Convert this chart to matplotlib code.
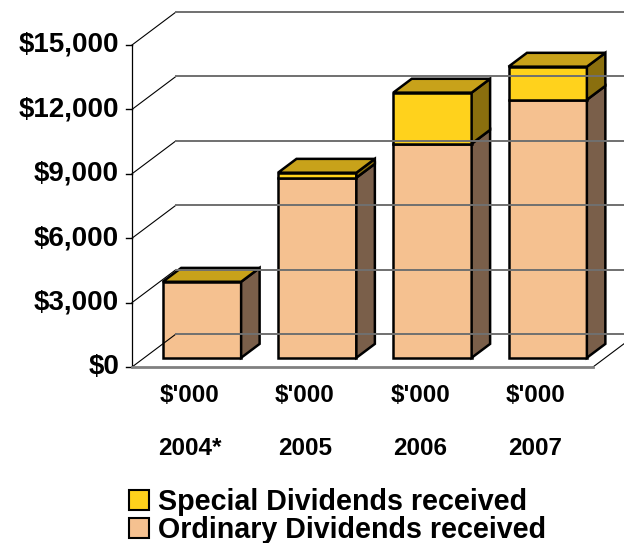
import numpy as np
import matplotlib
matplotlib.use("Agg")
import matplotlib.pyplot as plt
from matplotlib.patches import Polygon, Patch

plt.rcParams['font.family'] = ['Liberation Sans', 'DejaVu Sans']
plt.rcParams['font.weight'] = 'bold'

# data ($'000)
years = ["2004*", "2005", "2006", "2007"]
unit_labels = ["$'000", "$'000", "$'000", "$'000"]
ordinary = [3540, 8390, 9970, 12020]
special = [0, 230, 2380, 1540]
yticks = [0, 3000, 6000, 9000, 12000, 15000]
series_names = ["Special Dividends received", "Ordinary Dividends received"]

# colours
ord_front, ord_side = '#F5C190', '#7A5F4A'
sp_front, sp_side, top_col = '#FFD21C', '#8A6F0E', '#C8A21A'

W, H = 624, 543
fig = plt.figure(figsize=(W / 100, H / 100), dpi=100)
# front plane of the 3d box, in pixels
x0, x1, y0, y1 = 132, 593, 367, 45
ax = fig.add_axes([x0 / W, 1 - y0 / H, (x1 - x0) / W, (y0 - y1) / H])
ax.set_xlim(-0.5, 3.5)
ax.set_ylim(0, 15000)
ax.axis('off')

# depth of the box, expressed in data units
px_x = 4.0 / (x1 - x0)
px_y = 15000.0 / (y0 - y1)
dX, dY = 44 * px_x, 33 * px_y
fX, fY = 0.28 * dX, 0.28 * dY     # bar front
bX, bY = 0.70 * dX, 0.70 * dY     # bar back
hw = 0.34

kw = dict(clip_on=False)
# walls / gridlines
for v in yticks:
    ax.plot([-0.5, -0.5 + dX], [v, v + dY], color='black', lw=0.8, **kw)
    ax.plot([-0.5 + dX, 3.5 + dX], [v + dY, v + dY], color='#707070', lw=1.4, **kw)
    ax.plot([-0.5 - 6 * px_x, -0.5], [v, v], color='black', lw=1, **kw)
ax.plot([-0.5, -0.5], [0, 15000], color='black', lw=0.9, **kw)
ax.plot([3.5, 3.5 + dX], [0, dY], color='black', lw=0.8, **kw)
ax.plot([-0.5, 3.5], [0, 0], color='#808080', lw=2, **kw)

ec = dict(edgecolor='black', lw=1.8, joinstyle='miter', clip_on=False)


def face(pts, col):
    ax.add_patch(Polygon(pts, closed=True, facecolor=col, **ec))


for i in range(len(years)):
    l, r = i - hw, i + hw
    segs = [(0, ordinary[i], ord_front, ord_side),
            (ordinary[i], ordinary[i] + special[i], sp_front, sp_side)]
    for v0, v1, fc, sc in segs:
        if v1 <= v0:
            continue
        face([(l + fX, v0 + fY), (r + fX, v0 + fY), (r + fX, v1 + fY), (l + fX, v1 + fY)], fc)
        face([(r + fX, v0 + fY), (r + bX, v0 + bY), (r + bX, v1 + bY), (r + fX, v1 + fY)], sc)
    t = ordinary[i] + special[i]
    face([(l + fX, t + fY), (r + fX, t + fY), (r + bX, t + bY), (l + bX, t + bY)], top_col)

# tick labels
for v in yticks:
    ax.text(-0.5 - 13 * px_x, v, '${:,}'.format(v), ha='right', va='center',
            fontsize=20, fontweight='bold', clip_on=False)
for i in range(len(years)):
    ax.text(i, -28 * px_y, unit_labels[i], ha='center', va='center', fontsize=17.5,
            fontweight='bold', clip_on=False)
    ax.text(i, -81 * px_y, years[i], ha='center', va='center', fontsize=17.5,
            fontweight='bold', clip_on=False)

handles = [Patch(facecolor=sp_front, edgecolor='black', lw=1.5),
           Patch(facecolor=ord_front, edgecolor='black', lw=1.5)]
fig.legend(handles, series_names, loc='lower left', bbox_to_anchor=(118 / W, -12 / H),
           frameon=False, handlelength=0.7, handleheight=0.7,
           handletextpad=0.3, labelspacing=0.0, borderaxespad=0,
           prop={'weight': 'bold', 'size': 20.6})

fig.savefig('out.png', dpi=100)
